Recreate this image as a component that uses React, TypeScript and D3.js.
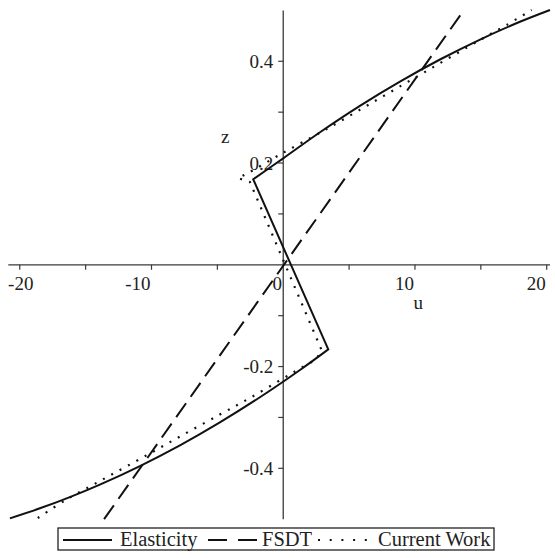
import React from 'react';
import * as d3 from 'd3';

// readings from the reference picture, (u, z) pairs, one array per branch
const elasticityLow: [number, number][] = [
  [-20.75, -0.4983], [-18.47, -0.4786], [-16.2, -0.4565], [-13.92, -0.432], [-10.88, -0.3955],
  [-7.84, -0.3548], [-4.81, -0.3097], [-1.77, -0.2603], [1.27, -0.2067], [3.42, -0.1662],
];
const elasticityMid: [number, number][] = [[3.42, -0.1662], [-2.28, 0.1681]];
const elasticityHigh: [number, number][] = [
  [-2.28, 0.1681], [0.0, 0.2093], [2.79, 0.2606], [5.82, 0.3125], [8.86, 0.3601],
  [11.9, 0.4035], [14.94, 0.4427], [17.97, 0.4776], [20.25, 0.5008],
];

const fsdt: [number, number][] = [[-13.6, -0.5], [13.7, 0.5]];

const currentLow: [number, number][] = [
  [-18.63, -0.4977], [-16.58, -0.4633], [-13.92, -0.425], [-10.88, -0.3817], [-7.84, -0.3375],
  [-4.81, -0.2943], [-2.53, -0.2618], [-0.02, -0.2235], [1.27, -0.2038], [2.41, -0.1861],
  [2.94, -0.1694],
];
const currentMid: [number, number][] = [[2.94, -0.1694], [-2.53, 0.1628], [-3.44, 0.1706]];
const currentHigh: [number, number][] = [
  [-3.44, 0.1706], [-2.7, 0.1799], [-0.17, 0.2178], [3.17, 0.265], [7.09, 0.3239],
  [11.01, 0.3829], [14.94, 0.4419], [16.96, 0.4714], [18.86, 0.5009],
];

const uTicks = [-20, -15, -10, -5, 5, 10, 15, 20];
const uLabels = [-20, -10, 10, 20];
const zTicks = [-0.4, -0.3, -0.2, -0.1, 0.1, 0.2, 0.3, 0.4];
const zLabels = [-0.4, -0.2, 0.2, 0.4];

const legendItems = [
  { name: 'Elasticity', dash: null as string | null },
  { name: 'FSDT', dash: '19,11' },
  { name: 'Current Work', dash: '2,9.7' },
];

const W = 555;
const H = 558;
const font = 'Liberation Serif, Times New Roman, serif';
const axisColor = '#3a3a3a';

export default function App() {
  const x = d3.scaleLinear().domain([-20.87, 20.25]).range([8.3, 550]);
  const y = d3.scaleLinear().domain([-0.5, 0.5]).range([519.2, 10.4]);
  const smooth = d3.line<[number, number]>().x(d => x(d[0])).y(d => y(d[1]))
    .curve(d3.curveCatmullRom.alpha(0.5));
  const straight = d3.line<[number, number]>().x(d => x(d[0])).y(d => y(d[1]));

  // join branches into one path, kinks stay sharp
  const branches = (parts: [number, number][][]) =>
    parts.map((p, i) => {
      const s = (i === 1 ? straight(p) : smooth(p)) || '';
      return i === 0 ? s : 'L' + s.slice(1);
    }).join('');

  const x0 = x(0);
  const y0 = y(0);

  // legend layout (line sample, then label)
  const legendX = [63, 208, 318];
  const labelX = [120, 262, 378];

  return (
    <svg width={W} height={H} style={{ position: 'absolute', left: 0, top: 0, background: '#fff' }}
      fontFamily={font}>
      {/* axes */}
      <line x1={x.range()[0]} x2={x.range()[1]} y1={y0} y2={y0} stroke={axisColor} strokeWidth={1.3} />
      <line x1={x0} x2={x0} y1={y.range()[1]} y2={y.range()[0]} stroke={axisColor} strokeWidth={1.3} />
      {uTicks.map(t => (
        <line key={'ut' + t} x1={x(t)} x2={x(t)} y1={y0} y2={y0 + 5} stroke={axisColor} strokeWidth={1.2} />
      ))}
      {zTicks.map(t => (
        <line key={'zt' + t} x1={x0 - 5} x2={x0} y1={y(t)} y2={y(t)} stroke={axisColor} strokeWidth={1.2} />
      ))}
      {uLabels.map(t => {
        const first = t === uLabels[0];
        return (
          <text key={'ul' + t} x={first ? x(t) + 1 : x(t) - 1} y={y0 + 25} fontSize={19}
            textAnchor={first ? 'middle' : 'end'} fill="#222">{t < 0 ? '-' + Math.abs(t) : t}</text>
        );
      })}
      <text x={x0 - 6} y={y0 + 25} fontSize={19} textAnchor="middle" fill="#222">0</text>
      {zLabels.map(t => (
        <text key={'zl' + t} x={x0 - 10} y={y(t) + 6.5} fontSize={19} textAnchor="end" fill="#222">
          {t < 0 ? '-' + Math.abs(t).toFixed(1) : t.toFixed(1)}
        </text>
      ))}
      <text x={x(0) + 135} y={y0 + 44} fontSize={19} textAnchor="middle" fill="#222">u</text>
      <text x={x0 - 58} y={y(0.2) - 20} fontSize={19} textAnchor="middle" fill="#222">z</text>

      {/* curves */}
      <path d={straight(fsdt) || ''} fill="none" stroke="#111" strokeWidth={2} strokeDasharray="17,8" />
      <path d={branches([currentLow, currentMid, currentHigh])} fill="none" stroke="#111"
        strokeWidth={2.2} strokeDasharray="2,7.5" />
      <path d={branches([elasticityLow, elasticityMid, elasticityHigh])} fill="none" stroke="#111"
        strokeWidth={2} strokeLinejoin="miter" />

      {/* legend */}
      <rect x={58} y={528} width={436} height={22} fill="#fff" stroke="#222" strokeWidth={1.3} />
      {legendItems.map((it, i) => (
        <g key={it.name}>
          <line x1={legendX[i]} x2={legendX[i] + 49} y1={540} y2={540} stroke="#111" strokeWidth={2}
            strokeDasharray={it.dash || undefined} />
          <text x={labelX[i]} y={546} fontSize={20.5} fill="#222">{it.name}</text>
        </g>
      ))}
    </svg>
  );
}
